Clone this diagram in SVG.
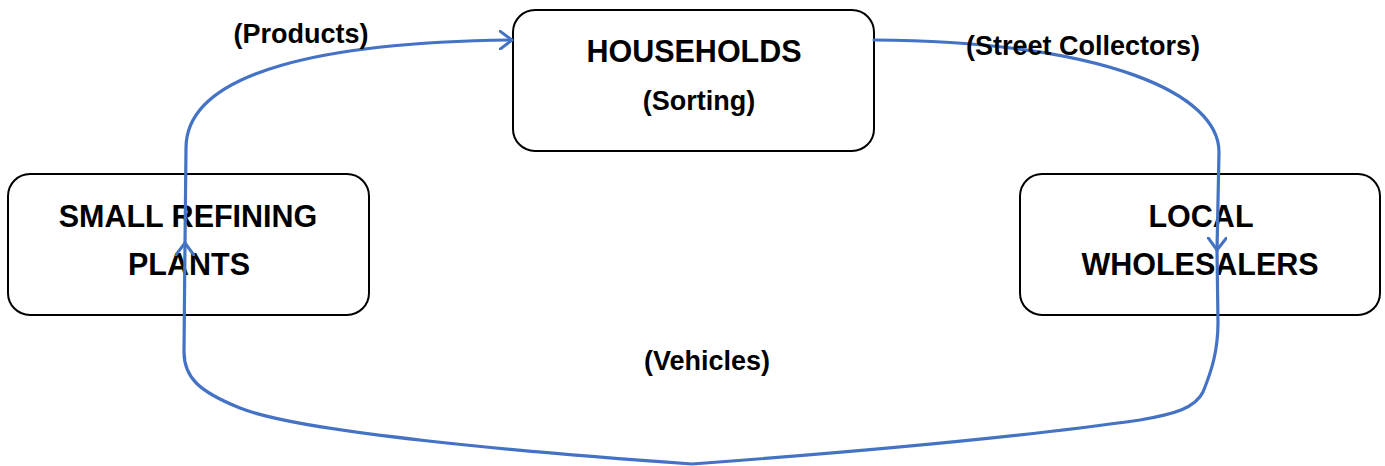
<svg xmlns="http://www.w3.org/2000/svg" width="1385" height="466" viewBox="0 0 1385 466">
<style>
.box{fill:#fff;stroke:#000;stroke-width:2}
.t{font-family:"Liberation Sans",Arial,sans-serif;font-weight:bold;fill:#000;text-anchor:middle}
.big{font-size:30.5px}
.lab{font-size:27px}
.c{fill:none;stroke:#4472C4;stroke-width:3.2;stroke-linecap:round;stroke-linejoin:round}
</style>
<defs>
<marker id="arr" viewBox="0 0 14 20" refX="13" refY="10" markerWidth="14" markerHeight="20" markerUnits="userSpaceOnUse" orient="auto">
<path d="M1 1 L13 10 L1 19" fill="none" stroke="#4472C4" stroke-width="3" stroke-linecap="round" stroke-linejoin="round"/>
</marker>
</defs>
<g id="households">
<rect class="box" x="513" y="10" width="361" height="141" rx="22"/>
<text class="t big" x="694" y="62">HOUSEHOLDS</text>
<text class="t lab" x="699" y="110">(Sorting)</text>
</g>
<g id="refining">
<rect class="box" x="8" y="174" width="361" height="141" rx="22"/>
<text class="t big" x="188" y="227">SMALL REFINING</text>
<text class="t big" x="189" y="275">PLANTS</text>
</g>
<g id="wholesalers">
<rect class="box" x="1020" y="174" width="360" height="141" rx="22"/>
<text class="t big" x="1201" y="227">LOCAL</text>
<text class="t big" x="1200" y="275">WHOLESALERS</text>
</g>
<g id="connectors">
<path class="c" marker-end="url(#arr)" d="M874 40 C1110 42 1219 95 1219 152 L1217 250"/>
<path class="c" marker-end="url(#arr)" d="M1217 250 L1218 322 C1218 350 1212 370 1203 392 C1195 408 1175 414 1140 420 C1000 440 800 456 692 464 C520 452 300 432 240 408 C200 392 184 378 184 352 L185 243"/>
<path class="c" marker-end="url(#arr)" d="M185 243 L186 148 C186 70 330 42 512 40"/>
</g>
<g id="labels">
<text class="t lab" x="301" y="43">(Products)</text>
<text class="t lab" x="1083" y="55">(Street Collectors)</text>
<text class="t lab" x="707" y="370">(Vehicles)</text>
</g>
</svg>
